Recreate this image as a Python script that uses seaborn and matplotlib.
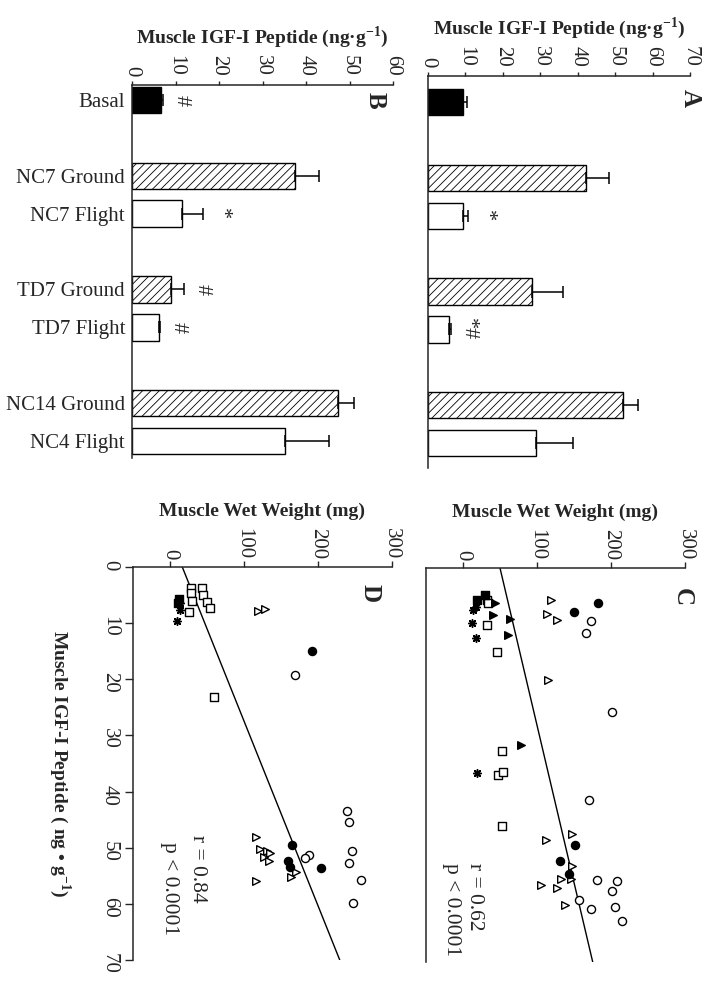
import numpy as np
import matplotlib
matplotlib.use("Agg")
import matplotlib.pyplot as plt
import seaborn as sns

# --- bar panels (A: top right, B: top left) ---
categories = ["Basal", "NC7 Ground", "NC7 Flight", "TD7 Ground", "TD7 Flight",
              "NC14 Ground", "NC4 Flight"]
pair_group = [0, 1, 1, 2, 2, 3, 3]

igf_a = [9.4, 42.2, 9.4, 27.7, 5.5, 52.2, 28.8]
sem_a = [0.9, 6.1, 1.3, 8.4, 0.6, 4.0, 10.0]
sig_a = ["", "", "*", "", "*#", "", ""]

igf_b = [6.7, 37.4, 11.5, 9.0, 6.1, 47.4, 35.1]
sem_b = [0.5, 5.6, 4.8, 3.0, 0.4, 3.6, 10.2]
sig_b = ["#", "", "*", "#", "#", "", ""]

# --- scatter panels: muscle wet weight (mg) vs IGF-I (ng/g) ---
c_open_sq_w = [32, 34, 32, 46, 53, 47.7, 54.5, 52.3]
c_open_sq_igf = [5.6, 6.3, 10.2, 15.0, 32.6, 36.7, 36.2, 45.8]
c_fill_sq_w = [18.5, 29.7]
c_fill_sq_igf = [5.6, 4.8]
c_fill_tri_w = [43, 40, 63.5, 61, 78]
c_fill_tri_igf = [6.3, 8.3, 9.0, 11.9, 31.4]
c_star_w = [14, 17, 12.6, 17.6, 19.4]
c_star_igf = [7.5, 6.9, 9.7, 12.5, 36.5]
c_open_tri_w = [118.5, 114, 126.6, 115, 147, 112, 147, 133, 145.5, 106, 126.6, 137.8]
c_open_tri_igf = [5.7, 8.2, 9.3, 19.9, 47.2, 48.3, 52.9, 55.3, 55.3, 56.3, 56.9, 59.9]
c_fill_circ_w = [183, 150, 151, 131, 143]
c_fill_circ_igf = [6.2, 7.8, 49.3, 52.0, 54.4]
c_open_circ_w = [172.5, 166, 202, 170.7, 180.6, 208.5, 201.8, 156.8, 172.5, 205.4, 214.5]
c_open_circ_igf = [9.4, 11.6, 25.5, 41.2, 55.4, 55.6, 57.4, 59.0, 60.5, 60.2, 62.8]
c_fit = [50.0, 1.79]          # intercept, slope (weight = a + b * IGF)
c_stats = ["r = 0.62", "p < 0.0001"]

d_open_sq_w = [29, 43, 29, 45, 50.5, 30.7, 55, 26, 59.5]
d_open_sq_igf = [3.8, 3.8, 4.7, 5.0, 6.2, 6.0, 7.3, 8.0, 23.1]
d_fill_sq_w = [13.0, 11.5]
d_fill_sq_igf = [5.7, 6.4]
d_star_w = [12.6, 14, 11, 13.5, 10.4]
d_star_igf = [6.0, 6.5, 6.3, 7.7, 9.6]
d_open_tri_w = [119.5, 128.5, 116, 122, 131, 136, 127, 134, 170.5, 164.5, 116]
d_open_tri_igf = [7.8, 7.5, 48.1, 50.3, 50.6, 50.9, 51.7, 52.4, 54.3, 55.2, 55.9]
d_fill_circ_w = [191.7, 165.5, 160, 163, 205]
d_fill_circ_igf = [14.9, 49.6, 52.4, 53.4, 53.7]
d_open_circ_w = [169, 240, 242, 246.7, 242.6, 259, 248, 188, 183]
d_open_circ_igf = [19.3, 43.4, 45.5, 50.6, 52.7, 55.8, 59.8, 51.3, 51.8]
d_fit = [17.0, 3.04]
d_stats = ["r = 0.84", "p < 0.0001"]

sns.set_style("ticks")
plt.rcParams["font.family"] = ["Liberation Serif", "DejaVu Serif"]
plt.rcParams["mathtext.fontset"] = "custom"
plt.rcParams["mathtext.rm"] = "Liberation Serif"
plt.rcParams["mathtext.bf"] = "Liberation Serif:bold"
plt.rcParams["hatch.linewidth"] = 0.6
plt.rcParams["axes.linewidth"] = 1.1

W, H = 709, 982
fig = plt.figure(figsize=(W / 100, H / 100), dpi=100)


def add_ax(x0, y0, x1, y1):
    # pixel box (left, top, right, bottom) -> figure fraction
    return fig.add_axes([x0 / W, 1 - y1 / H, (x1 - x0) / W, (y1 - y0) / H])


ax_a = add_ax(428, 76, 690, 468)
ax_b = add_ax(132, 85, 393, 458)
ax_c = add_ax(426, 568, 685, 962)
ax_d = add_ax(132.7, 567, 391.7, 960)

title_igf = "Muscle IGF-I Peptide (ng·g" + r"$^{\mathbf{-1}}$" + ")"


def draw_bars(ax, values, errs, marks, xmax, ylim, letter, letter_xy, show_labels):
    pos = np.arange(len(categories)) + np.array(pair_group)
    sns.barplot(x=values, y=pos, orient="h", native_scale=True, width=0.7,
                color="white", edgecolor="black", linewidth=1.0,
                errorbar=None, ax=ax)
    for patch, name in zip(ax.patches, categories):
        if name == "Basal":
            patch.set_facecolor("black")
        elif "Ground" in name:
            patch.set_facecolor("white")
            patch.set_hatch("////")
        else:
            patch.set_facecolor("white")
    ax.errorbar(values, pos, xerr=[np.zeros(len(values)), errs], fmt="none",
                ecolor="black", elinewidth=1.1, capsize=4, capthick=1.1)
    for v, e, p, m in zip(values, errs, pos, marks):
        if m:
            ax.annotate(m, (v + e, p), xytext=(13, 0), textcoords="offset points",
                        rotation=-90, ha="center", va="center", fontsize=16)
    ax.set_xlim(0, xmax)
    ax.set_ylim(*ylim)
    ax.set_xticks(np.arange(0, xmax + 1, 10))
    ax.xaxis.tick_top()
    ax.xaxis.set_label_position("top")
    ax.set_xlabel(title_igf, fontsize=14, fontweight="bold", labelpad=9)
    ax.set_ylabel("")
    ax.tick_params(axis="x", labelrotation=-90, length=3, width=1, pad=3.5,
                   labelsize=15)
    ax.set_yticks(pos)
    ax.set_yticklabels(categories if show_labels else [])
    ax.tick_params(axis="y", length=0, pad=5, labelsize=15)
    for s in ("right", "bottom"):
        ax.spines[s].set_visible(False)
    ax.text(letter_xy[0], letter_xy[1], letter, transform=ax.transAxes,
            rotation=-90, ha="center", va="center", fontsize=18, fontweight="bold")


draw_bars(ax_a, igf_a, sem_a, sig_a, 70, (9.66, -0.69), "A", (1.0, 0.944), False)
draw_bars(ax_b, igf_b, sem_b, sig_b, 60, (9.45, -0.40), "B", (0.931, 0.96), True)


def draw_scatter(ax, sets, fit, stats, stats_xy, letter, letter_xy, igf_labels):
    for w, igf, marker, face, size in sets:
        if face is None:
            sns.scatterplot(x=w, y=igf, ax=ax, marker=marker, color="black",
                            s=size, linewidth=1.1, zorder=3)
        else:
            sns.scatterplot(x=w, y=igf, ax=ax, marker=marker, color="black",
                            facecolor=face, edgecolor="black", s=size,
                            linewidth=1.0, zorder=3)
    igf_line = np.array([0, 70])
    ax.plot(fit[0] + fit[1] * igf_line, igf_line, color="black", lw=1.0, zorder=2)
    ax.set_xlim(-50, 300)
    ax.set_ylim(70, 0)
    ax.set_xticks([0, 100, 200, 300])
    ax.xaxis.tick_top()
    ax.xaxis.set_label_position("top")
    ax.set_xlabel("Muscle Wet Weight (mg)", fontsize=14, fontweight="bold",
                  labelpad=9)
    ax.tick_params(axis="x", labelrotation=-90, length=4, width=1, pad=1.5,
                   labelsize=15)
    if igf_labels:
        ax.set_yticks(np.arange(0, 71, 10))
        ax.tick_params(axis="y", labelrotation=-90, length=6, width=1, pad=4,
                       labelsize=15)
        ax.set_ylabel("")
        ax.text(-0.281, 0.5, "Muscle IGF-I Peptide ( ng • g" + r"$^{\mathbf{-1}}$" + ")",
                transform=ax.transAxes, rotation=-90, ha="center", va="center",
                fontsize=14, fontweight="bold")
    else:
        ax.set_yticks([])
        ax.set_ylabel("")
    for s in ("right", "bottom"):
        ax.spines[s].set_visible(False)
    for txt, (tx, ty) in zip(stats, stats_xy):
        ax.text(tx, ty, txt, rotation=-90, ha="center", va="top", fontsize=15.5)
    ax.text(letter_xy[0], letter_xy[1], letter, transform=ax.transAxes,
            rotation=-90, ha="center", va="center", fontsize=18, fontweight="bold")


star = (8, 2, 0)
draw_scatter(ax_c, [
    (c_open_sq_w, c_open_sq_igf, "s", "white", 34),
    (c_fill_sq_w, c_fill_sq_igf, "s", "black", 34),
    (c_fill_tri_w, c_fill_tri_igf, ">", "black", 30),
    (c_star_w, c_star_igf, star, None, 30),
    (c_open_tri_w, c_open_tri_igf, ">", "white", 30),
    (c_fill_circ_w, c_fill_circ_igf, "o", "black", 34),
    (c_open_circ_w, c_open_circ_igf, "o", "white", 34),
], c_fit, c_stats, [(15.8, 52.4), (-15.7, 52.4)], "C", (0.988, 0.926), False)

draw_scatter(ax_d, [
    (d_open_sq_w, d_open_sq_igf, "s", "white", 40),
    (d_fill_sq_w, d_fill_sq_igf, "s", "black", 34),
    (d_star_w, d_star_igf, star, None, 30),
    (d_open_tri_w, d_open_tri_igf, ">", "white", 30),
    (d_fill_circ_w, d_fill_circ_igf, "o", "black", 34),
    (d_open_circ_w, d_open_circ_igf, "o", "white", 34),
], d_fit, d_stats, [(37.9, 47.8), (0.0, 49.0)], "D", (0.916, 0.934), True)

fig.savefig("out.png", dpi=100)
